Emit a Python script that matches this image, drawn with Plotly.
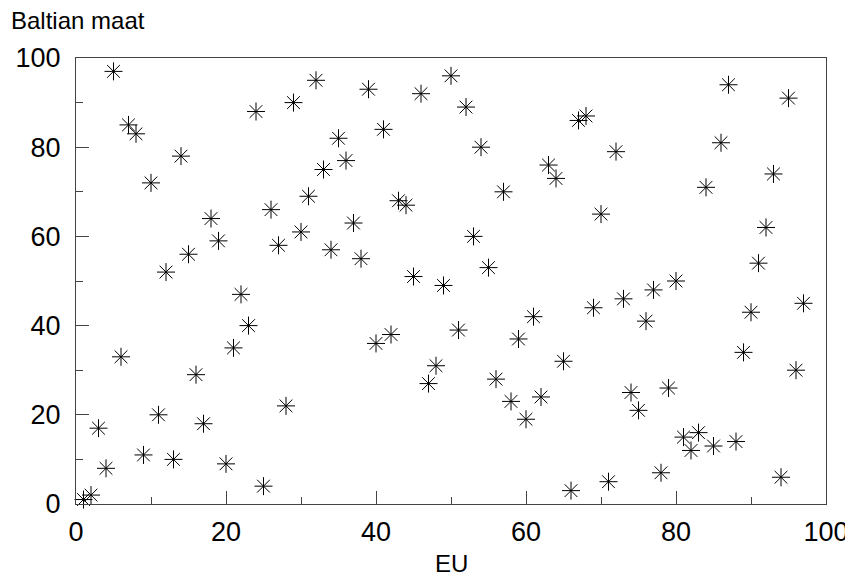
import plotly.graph_objects as go

eu = list(range(1, 98))
baltian = [1, 2, 17, 8, 97, 33, 85, 83, 11, 72,
           20, 52, 10, 78, 56, 29, 18, 64, 59, 9,
           35, 47, 40, 88, 4, 66, 58, 22, 90, 61,
           69, 95, 75, 57, 82, 77, 63, 55, 93, 36,
           84, 38, 68, 67, 51, 92, 27, 31, 49, 96,
           39, 89, 60, 80, 53, 28, 70, 23, 37, 19,
           42, 24, 76, 73, 32, 3, 86, 87, 44, 65,
           5, 79, 46, 25, 21, 41, 48, 7, 26, 50,
           15, 12, 16, 71, 13, 81, 94, 14, 34, 43,
           54, 62, 74, 6, 91, 30, 45]

x_title = "EU"
y_title = "Baltian maat"

FONT = "Liberation Sans, Arial, sans-serif"

fig = go.Figure(go.Scatter(
    x=eu, y=baltian, mode="markers",
    marker=dict(symbol="asterisk-open", size=15, color="black",
                line=dict(color="black", width=1)),
    cliponaxis=False,
))

axis_common = dict(
    range=[0, 100], dtick=20, tick0=0,
    ticks="inside", ticklen=13, tickwidth=1.2, tickcolor="#444",
    showline=True, linecolor="#444", linewidth=1.3, mirror=True,
    showgrid=False, zeroline=False, automargin=False,
    tickfont=dict(family=FONT, size=27, color="black"),
    minor=dict(ticks="inside", ticklen=7, dtick=10, tickcolor="#444", tickwidth=1.2, showgrid=False),
)

# the page places the figure 8px from the top-left corner
fig.update_layout(
    width=845, height=571,
    margin=dict(l=68, r=27, t=50, b=75),
    paper_bgcolor="white", plot_bgcolor="white",
    showlegend=False,
    xaxis=dict(**axis_common, ticklabelstandoff=3),
    yaxis=dict(**axis_common, ticklabelstandoff=9),
    annotations=[
        dict(text=y_title, xref="paper", yref="paper", x=-0.090, y=1.085,
             xanchor="left", yanchor="middle", showarrow=False,
             font=dict(family=FONT, size=24, color="black")),
        dict(text=x_title, xref="paper", yref="paper", x=0.5, y=-0.134,
             xanchor="center", yanchor="middle", showarrow=False,
             font=dict(family=FONT, size=24, color="black")),
    ],
)

fig.write_html("out.html")
